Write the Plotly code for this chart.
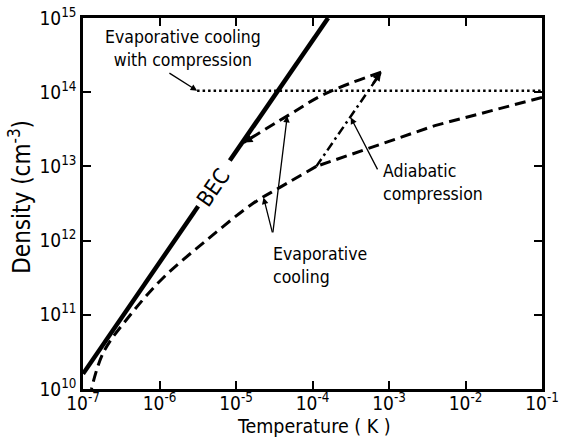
import math
import plotly.graph_objects as go

# ---------------- data ----------------
x_ticks = [1e-7, 1e-6, 1e-5, 1e-4, 1e-3, 1e-2, 1e-1]
x_tick_text = ["10<sup>-7</sup>", "10<sup>-6</sup>", "10<sup>-5</sup>", "10<sup>-4</sup>",
               "10<sup>-3</sup>", "10<sup>-2</sup>", "10<sup>-1</sup>"]
y_ticks = [1e10, 1e11, 1e12, 1e13, 1e14, 1e15]
y_tick_text = ["10<sup>10</sup>", "10<sup>11</sup>", "10<sup>12</sup>", "10<sup>13</sup>",
               "10<sup>14</sup>", "10<sup>15</sup>"]

# BEC transition line (solid, broken by its label)
bec_T_low = [1e-7, 3.2e-6]
bec_n_low = [1.6e10, 2.9e12]
bec_T_high = [8.3e-6, 1.6e-4]
bec_n_high = [1.2e13, 1e15]

# Evaporative cooling with compression (dotted)
evc_comp_T = [3.1e-6, 1e-1]
evc_comp_n = [1.05e14, 1.05e14]

# Evaporative cooling from high temperature (dashed)
evap_right_T = [1e-1, 3.98e-3, 1.12e-4]
evap_right_n = [8.5e13, 3.55e13, 1.0e13]
evap_left_T = [1.12e-4, 3.8e-5, 1.66e-5, 4.07e-6, 1.12e-6, 4.17e-7, 1.86e-7, 1.29e-7]
evap_left_n = [1.0e13, 5.25e12, 3.16e12, 1.0e12, 3.16e11, 1.0e11, 3.16e10, 1.0e10]

# Adiabatic compression (dash-dot)
adiab_T = [1.12e-4, 7.9e-4]
adiab_n = [1.0e13, 1.86e14]

# Evaporative cooling after compression (dashed)
evap2_T = [7.9e-4, 1.45e-4, 4.7e-5, 1.26e-5]
evap2_n = [1.86e14, 9.5e13, 4.8e13, 2.1e13]

FONT = "Liberation Sans Narrow, DejaVu Sans Condensed, Arial, sans-serif"
L = math.log10

fig = go.Figure()

line_black = "black"
fig.add_trace(go.Scatter(x=bec_T_low, y=bec_n_low, mode="lines",
                         line=dict(color=line_black, width=4.5)))
fig.add_trace(go.Scatter(x=bec_T_high, y=bec_n_high, mode="lines",
                         line=dict(color=line_black, width=4.5)))
fig.add_trace(go.Scatter(x=evc_comp_T, y=evc_comp_n, mode="lines",
                         line=dict(color=line_black, width=2.5, dash="2.5px,3px")))
fig.add_trace(go.Scatter(x=evap_right_T, y=evap_right_n, mode="lines",
                         line=dict(color=line_black, width=3, dash="11px,6px")))
fig.add_trace(go.Scatter(x=evap_left_T, y=evap_left_n, mode="lines",
                         line=dict(color=line_black, width=3, dash="11px,6px", shape="spline")))
fig.add_trace(go.Scatter(x=adiab_T, y=adiab_n, mode="lines",
                         line=dict(color=line_black, width=2.5, dash="9px,4px,2.5px,4px")))
fig.add_trace(go.Scatter(x=evap2_T, y=evap2_n, mode="lines",
                         line=dict(color=line_black, width=3, dash="11px,6px", shape="spline")))

annotations = []
# BEC label
annotations.append(dict(x=-5.30, y=12.72, xref="x", yref="y", text="BEC", showarrow=False,
                        textangle=-55.5, font=dict(family=FONT, size=22, color="black")))
# text labels
annotations.append(dict(x=-5.69, y=14.59, xref="x", yref="y",
                        text="Evaporative cooling<br>with compression", showarrow=False,
                        align="center", font=dict(family=FONT, size=17.5, color="black")))
annotations.append(dict(x=-3.10, y=12.78, xref="x", yref="y", xanchor="left",
                        text="Adiabatic<br>compression", showarrow=False, align="left",
                        font=dict(family=FONT, size=17.5, color="black")))
annotations.append(dict(x=-4.54, y=11.67, xref="x", yref="y", xanchor="left",
                        text="Evaporative<br>cooling", showarrow=False, align="left",
                        font=dict(family=FONT, size=17.5, color="black")))
# axis titles
annotations.append(dict(x=0.503, y=-0.100, xref="paper", yref="paper", xanchor="center",
                        yanchor="middle", text="Temperature ( K )", showarrow=False,
                        font=dict(family=FONT, size=19.5, color="black")))
annotations.append(dict(x=-0.136, y=0.517, xref="paper", yref="paper", xanchor="center",
                        yanchor="middle", text="Density (cm<sup>-3</sup>)", showarrow=False,
                        textangle=-90, font=dict(family=FONT, size=24, color="black")))

def arrow(tail, tip, head=2, size=1.0, width=1.3):
    return dict(x=tip[0], y=tip[1], ax=tail[0], ay=tail[1], xref="x", yref="y",
                axref="x", ayref="y", text="", showarrow=True, arrowhead=head,
                arrowsize=size, arrowwidth=width, arrowcolor="black")

annotations.append(arrow((-5.89, 14.27), (L(evc_comp_T[0]), L(evc_comp_n[0]))))
annotations.append(arrow((-3.14, 12.94), (-3.50, 13.66)))
annotations.append(arrow((-4.52, 12.09), (-4.33, 13.68)))
annotations.append(arrow((-4.52, 12.09), (-4.64, 12.58)))
# process arrowheads
annotations.append(arrow((-3.22, 14.10), (L(adiab_T[1]), L(adiab_n[1])), head=2, size=0.7, width=2.5))
annotations.append(arrow((-4.80, 13.38), (L(evap2_T[-1]), L(evap2_n[-1])), head=2, size=0.7, width=2.5))

fig.update_layout(
    width=563, height=441,
    margin=dict(l=83, r=21, t=18, b=52),
    paper_bgcolor="white", plot_bgcolor="white",
    showlegend=False,
    annotations=annotations,
    font=dict(family=FONT, color="black"),
)
fig.update_xaxes(type="log", range=[-7, -1], tickvals=x_ticks, ticktext=x_tick_text,
                 ticks="inside", ticklen=8, tickwidth=2, tickcolor="black",
                 showline=True, linewidth=2.5, linecolor="black", mirror="ticks",
                 showgrid=False, zeroline=False, automargin=False, ticklabelstandoff=-5,
                 tickfont=dict(family=FONT, size=19, color="black"))
fig.update_yaxes(type="log", range=[10, 15], tickvals=y_ticks, ticktext=y_tick_text,
                 ticks="inside", ticklen=8, tickwidth=2, tickcolor="black",
                 showline=True, linewidth=2.5, linecolor="black", mirror="ticks",
                 showgrid=False, zeroline=False, automargin=False, ticklabelstandoff=0,
                 tickfont=dict(family=FONT, size=19, color="black"))

# remove the page's default 8px body margin so the figure sits at the window's top-left
fig.write_html("out.html", config={"displayModeBar": False},
               post_script="document.body.style.margin='0';document.body.style.overflow='hidden';")
